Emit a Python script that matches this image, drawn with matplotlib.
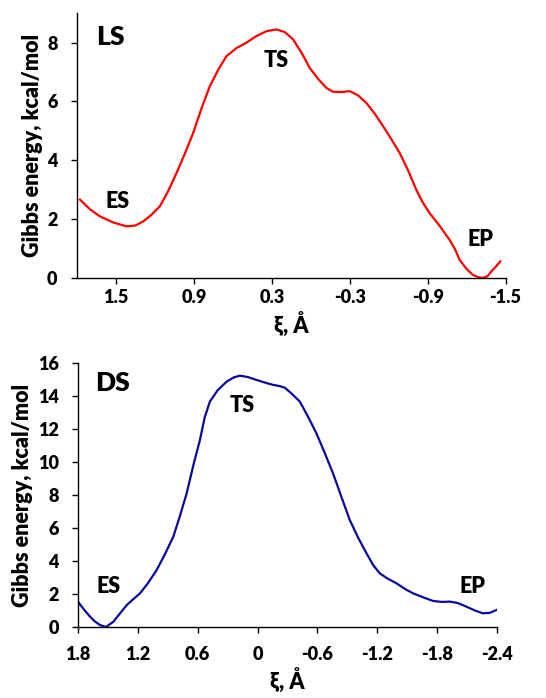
import matplotlib
matplotlib.use("Agg")
import matplotlib.pyplot as plt

plt.rcParams['font.family'] = ['Lato', 'DejaVu Sans']
W = 'heavy'

# LS panel data
ls_xi = [1.777, 1.700, 1.623, 1.520, 1.418, 1.350, 1.290, 1.230, 1.162, 1.100, 1.033, 0.970,
         0.905, 0.840, 0.777, 0.710, 0.649, 0.570, 0.495, 0.420, 0.341, 0.264, 0.200, 0.136,
         0.070, 0.008, -0.060, -0.120, -0.171, -0.240, -0.300, -0.360, -0.428, -0.490,
         -0.556, -0.620, -0.684, -0.750, -0.812, -0.860, -0.915, -0.990, -1.069, -1.110,
         -1.146, -1.200, -1.248, -1.290, -1.325, -1.360, -1.389, -1.425, -1.459]
ls_g = [2.66, 2.33, 2.09, 1.88, 1.75, 1.78, 1.92, 2.13, 2.43, 2.93, 3.57, 4.22,
        4.93, 5.78, 6.52, 7.10, 7.54, 7.82, 8.00, 8.22, 8.39, 8.45, 8.36, 8.11,
        7.65, 7.14, 6.75, 6.46, 6.33, 6.32, 6.35, 6.22, 5.95, 5.60,
        5.16, 4.72, 4.25, 3.65, 3.00, 2.58, 2.20, 1.78, 1.29, 0.98,
        0.61, 0.30, 0.10, 0.02, 0.00, 0.05, 0.21, 0.38, 0.56]

# DS panel data
ds_xi = [1.793, 1.740, 1.680, 1.630, 1.580, 1.520, 1.446, 1.380, 1.312, 1.240, 1.179,
         1.100, 1.012, 0.930, 0.845, 0.780, 0.711, 0.640, 0.578, 0.530, 0.478, 0.400,
         0.310, 0.240, 0.177, 0.100, 0.010, -0.080, -0.157, -0.220, -0.274, -0.340,
         -0.424, -0.510, -0.590, -0.670, -0.757, -0.840, -0.925, -1.010, -1.093, -1.160,
         -1.226, -1.300, -1.393, -1.480, -1.560, -1.660, -1.760, -1.850, -1.930, -2.010,
         -2.095, -2.180, -2.260, -2.330, -2.395]
ds_g = [1.47, 1.05, 0.63, 0.33, 0.12, 0.00, 0.32, 0.82, 1.33, 1.72, 2.04,
        2.65, 3.45, 4.40, 5.47, 6.70, 8.10, 9.90, 11.33, 12.70, 13.66, 14.35,
        14.87, 15.12, 15.23, 15.15, 14.97, 14.80, 14.67, 14.60, 14.50, 14.15,
        13.66, 12.70, 11.74, 10.60, 9.31, 7.90, 6.48, 5.40, 4.46, 3.75,
        3.25, 2.95, 2.65, 2.30, 2.04, 1.80, 1.58, 1.52, 1.54, 1.45,
        1.23, 1.00, 0.83, 0.86, 1.03]

ls_ticks = [1.5, 0.9, 0.3, -0.3, -0.9, -1.5]
ls_ticklabels = ['1.5', '0.9', '0.3', '-0.3', '-0.9', '-1.5']
ls_yticks = [0, 2, 4, 6, 8]
ds_ticks = [1.8, 1.2, 0.6, 0, -0.6, -1.2, -1.8, -2.4]
ds_ticklabels = ['1.8', '1.2', '0.6', '0', '-0.6', '-1.2', '-1.8', '-2.4']
ds_yticks = [0, 2, 4, 6, 8, 10, 12, 14, 16]

fig = plt.figure(figsize=(5.46, 6.98), dpi=100)
ax1 = fig.add_axes([0.141, 0.602, 0.785, 0.379])
ax2 = fig.add_axes([0.143, 0.1017, 0.767, 0.3783])

def style(ax, xpad, xlabpad):
    for s in ['top', 'right']:
        ax.spines[s].set_visible(False)
    for s in ['left', 'bottom']:
        ax.spines[s].set_linewidth(1.0)
        ax.spines[s].set_color('black')
    ax.tick_params(axis='both', direction='out', length=4, width=1.0, labelsize=13)
    ax.tick_params(axis='y', pad=10)
    ax.tick_params(axis='x', pad=xpad)
    for lab in ax.get_xticklabels() + ax.get_yticklabels():
        lab.set_fontweight(W)
    ax.set_ylabel('Gibbs energy, kcal/mol', fontsize=15.5, fontweight=W, labelpad=3)
    ax.set_xlabel('ξ, Å', fontsize=15.5, fontweight=W, labelpad=xlabpad)

ax1.plot(ls_xi, ls_g, color='#FF0000', lw=1.6)
ax1.set_xlim(1.8, -1.5)
ax1.set_ylim(0, 9)
ax1.set_xticks(ls_ticks)
ax1.set_xticklabels(ls_ticklabels)
ax1.set_yticks(ls_yticks)
style(ax1, 4, 5)
ax1.text(1.546, 8.2, 'LS', fontsize=19, fontweight=W, ha='center', va='center')
ax1.text(0.27, 7.4, 'TS', fontsize=15.5, fontweight=W, ha='center', va='center')
ax1.text(1.49, 2.6, 'ES', fontsize=15.5, fontweight=W, ha='center', va='center')
ax1.text(-1.31, 1.3, 'EP', fontsize=15.5, fontweight=W, ha='center', va='center')

ax2.plot(ds_xi, ds_g, color='#0A0A9A', lw=1.6)
ax2.set_xlim(1.8, -2.4)
ax2.set_ylim(0, 16)
ax2.set_xticks(ds_ticks)
ax2.set_xticklabels(ds_ticklabels)
ax2.set_yticks(ds_yticks)
style(ax2, 10, 4)
ax2.text(1.452, 14.77, 'DS', fontsize=19, fontweight=W, ha='center', va='center')
ax2.text(0.153, 13.45, 'TS', fontsize=15.5, fontweight=W, ha='center', va='center')
ax2.text(1.496, 2.44, 'ES', fontsize=15.5, fontweight=W, ha='center', va='center')
ax2.text(-2.16, 2.44, 'EP', fontsize=15.5, fontweight=W, ha='center', va='center')

fig.savefig('out.png', dpi=100)
